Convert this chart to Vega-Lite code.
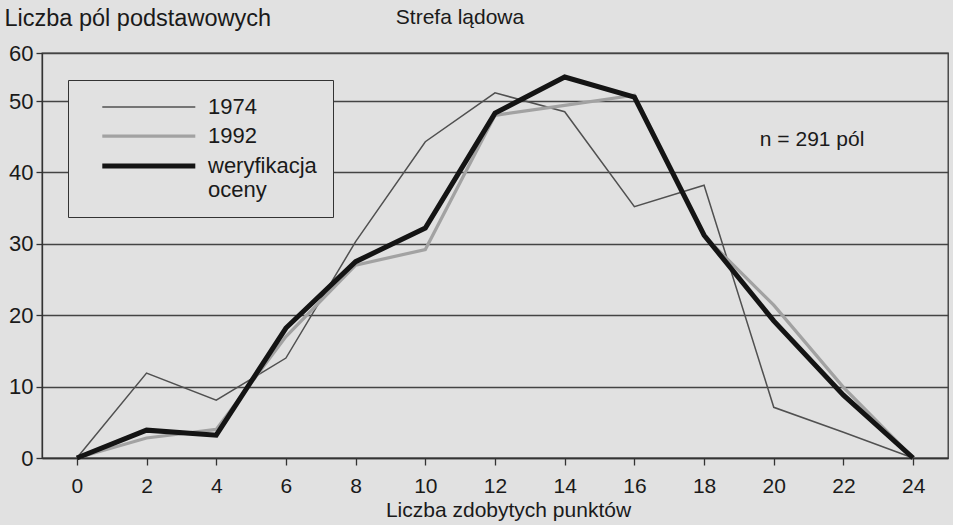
{
  "$schema": "https://vega.github.io/schema/vega-lite/v6.json",
  "autosize": "none",
  "width": 906,
  "height": 405,
  "padding": {"left": 42, "top": 53, "right": 5, "bottom": 67},
  "background": "#e1e1e1",
  "title": {"text": "Strefa lądowa", "anchor": "middle", "dx": -35, "dy": 22, "offset": 0, "fontSize": 21, "font": "Liberation Sans", "fontWeight": "normal", "color": "#1a1a1a"},
  "config": {
    "font": "Liberation Sans",
    "view": {"stroke": "#333", "strokeWidth": 1.3, "fill": "#e1e1e1"},
    "axis": {"labelFont": "Liberation Sans", "labelFontSize": 21, "labelColor": "#1a1a1a", "titleFont": "Liberation Sans", "titleFontSize": 21, "titleFontWeight": "normal", "titleColor": "#1a1a1a", "domainColor": "#333", "domainWidth": 1.3, "tickColor": "#333", "tickWidth": 1.3, "gridColor": "#444", "gridWidth": 1.3, "gridOpacity": 1}
  },
  "data": {"values": [
    {"x": 0, "y": 0, "s": "1974"}, {"x": 2, "y": 11.9, "s": "1974"}, {"x": 4, "y": 8.1, "s": "1974"}, {"x": 6, "y": 14.0, "s": "1974"}, {"x": 8, "y": 30.3, "s": "1974"}, {"x": 10, "y": 44.3, "s": "1974"}, {"x": 12, "y": 51.7, "s": "1974"}, {"x": 14, "y": 48.5, "s": "1974"}, {"x": 16, "y": 35.2, "s": "1974"}, {"x": 18, "y": 38.2, "s": "1974"}, {"x": 20, "y": 7.1, "s": "1974"}, {"x": 22, "y": 3.6, "s": "1974"}, {"x": 24, "y": 0, "s": "1974"},
    {"x": 0, "y": 0, "s": "1992"}, {"x": 2, "y": 2.8, "s": "1992"}, {"x": 4, "y": 4.0, "s": "1992"}, {"x": 6, "y": 17.0, "s": "1992"}, {"x": 8, "y": 27.0, "s": "1992"}, {"x": 10, "y": 29.2, "s": "1992"}, {"x": 12, "y": 48.0, "s": "1992"}, {"x": 14, "y": 49.4, "s": "1992"}, {"x": 16, "y": 51.2, "s": "1992"}, {"x": 18, "y": 31.1, "s": "1992"}, {"x": 20, "y": 21.4, "s": "1992"}, {"x": 22, "y": 9.9, "s": "1992"}, {"x": 24, "y": 0, "s": "1992"},
    {"x": 0, "y": 0, "s": "weryfikacja oceny"}, {"x": 2, "y": 3.9, "s": "weryfikacja oceny"}, {"x": 4, "y": 3.2, "s": "weryfikacja oceny"}, {"x": 6, "y": 18.2, "s": "weryfikacja oceny"}, {"x": 8, "y": 27.5, "s": "weryfikacja oceny"}, {"x": 10, "y": 32.2, "s": "weryfikacja oceny"}, {"x": 12, "y": 48.3, "s": "weryfikacja oceny"}, {"x": 14, "y": 55.0, "s": "weryfikacja oceny"}, {"x": 16, "y": 50.8, "s": "weryfikacja oceny"}, {"x": 18, "y": 31.2, "s": "weryfikacja oceny"}, {"x": 20, "y": 19.2, "s": "weryfikacja oceny"}, {"x": 22, "y": 8.8, "s": "weryfikacja oceny"}, {"x": 24, "y": 0, "s": "weryfikacja oceny"}
  ]},
  "layer": [
    {
      "mark": {"type": "line", "strokeJoin": "miter"},
      "encoding": {
        "x": {"field": "x", "type": "quantitative", "scale": {"domain": [-1, 25], "nice": false, "zero": false},
          "axis": {"values": [0, 2, 4, 6, 8, 10, 12, 14, 16, 18, 20, 22, 24], "grid": false, "tickSize": 7, "labelPadding": 10, "title": "Liczba zdobytych punktów", "titlePadding": 3, "titleX": 466}},
        "y": {"field": "y", "type": "quantitative", "scale": {"domain": [0, 50, 60], "range": [405, 48, 0], "nice": false, "zero": false},
          "axis": {"values": [0, 10, 20, 30, 40, 50, 60], "grid": true, "tickSize": 6, "labelPadding": 3, "labelFontSize": 22, "title": "Liczba pól podstawowych", "titleAngle": 0, "titleAlign": "left", "titleBaseline": "middle", "titleX": -38, "titleY": -35, "titleFontSize": 23.5}},
        "color": {"field": "s", "type": "nominal", "scale": {"domain": ["1974", "1992", "weryfikacja oceny"], "range": ["#505050", "#a2a2a2", "#141414"]},
          "legend": {"title": null, "orient": "none", "legendX": 26, "legendY": 27, "direction": "vertical", "strokeColor": "#333", "fillColor": "#e1e1e1", "padding": 16, "symbolType": "M-9,0H1", "symbolSize": 346, "symbolOffset": 90, "rowPadding": 7, "labelFontSize": 22, "labelColor": "#1a1a1a", "labelOffset": 10, "labelBaseline": "middle", "labelExpr": "datum.label == 'weryfikacja oceny' ? ['weryfikacja', 'oceny'] : datum.label"}},
        "strokeWidth": {"field": "s", "type": "nominal", "scale": {"domain": ["1974", "1992", "weryfikacja oceny"], "range": [1.5, 5, 5.5]}, "legend": null}
      }
    },
    {
      "data": {"values": [{"x": 21.1, "y": 44.5, "t": "n = 291 pól"}]},
      "mark": {"type": "text", "fontSize": 21, "font": "Liberation Sans", "color": "#1a1a1a", "align": "center", "baseline": "middle"},
      "encoding": {
        "x": {"field": "x", "type": "quantitative"},
        "y": {"field": "y", "type": "quantitative"},
        "text": {"field": "t"}
      }
    }
  ]
}
